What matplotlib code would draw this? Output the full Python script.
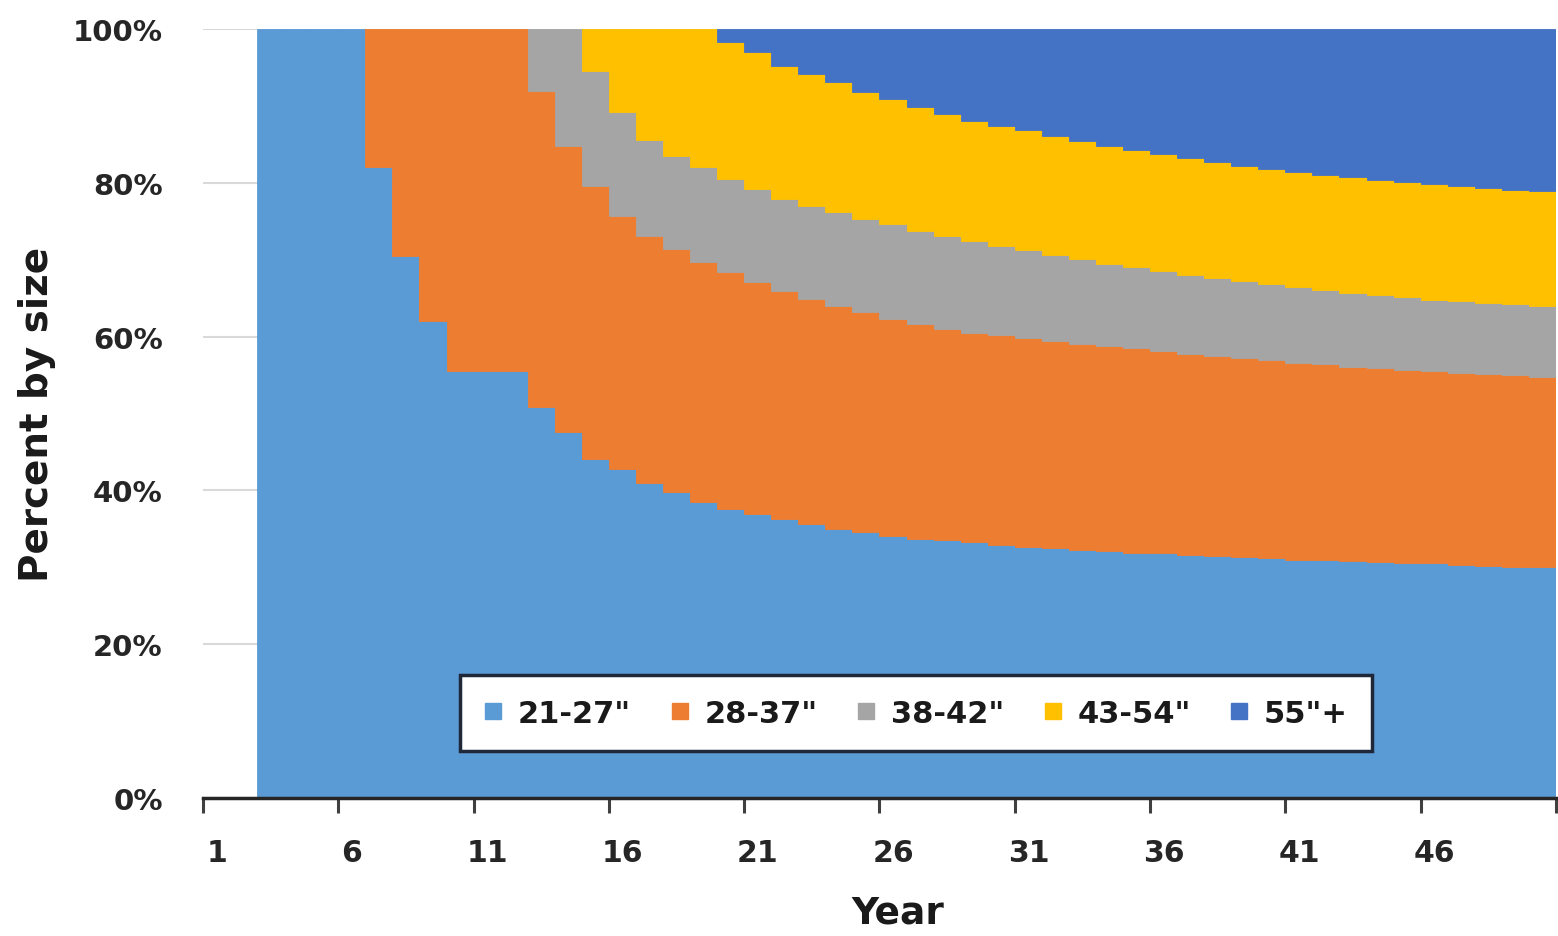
import numpy as np
import matplotlib
matplotlib.use("Agg")
import matplotlib.pyplot as plt
from matplotlib.lines import Line2D

# share of each screen-size bucket per year (percent), years 1..50
years = list(range(1, 51))
size_labels = ['21-27"', '28-37"', '38-42"', '43-54"', '55"+']
colors = ["#5B9BD5", "#ED7D31", "#A5A5A5", "#FFC000", "#4472C4"]

s21_27 = [0, 0, 100, 100, 100, 100, 82, 70.5, 62, 55.5,
          55.5, 55.5, 50.8, 47.6, 44.1, 42.8, 41.0, 39.8, 38.5, 37.6,
          36.9, 36.3, 35.6, 35.0, 34.6, 34.1, 33.7, 33.5, 33.3, 32.9,
          32.7, 32.5, 32.3, 32.1, 31.9, 31.8, 31.6, 31.5, 31.3, 31.2,
          31.0, 30.9, 30.8, 30.7, 30.6, 30.5, 30.3, 30.2, 30.1, 30.0]
s28_37 = [0, 0, 0, 0, 0, 0, 18, 29.5, 38, 44.5,
          44.5, 44.5, 41.2, 37.2, 35.5, 32.9, 32.1, 31.6, 31.2, 30.8,
          30.2, 29.6, 29.3, 29.0, 28.6, 28.2, 27.9, 27.5, 27.2, 27.3,
          27.1, 26.9, 26.8, 26.7, 26.6, 26.3, 26.2, 26.0, 25.9, 25.7,
          25.6, 25.5, 25.3, 25.2, 25.1, 25.0, 25.0, 24.9, 24.9, 24.8]
s38_42 = [0, 0, 0, 0, 0, 0, 0, 0, 0, 0,
          0, 0, 8.0, 15.2, 14.9, 13.5, 12.4, 12.1, 12.3, 12.1,
          12.1, 12.0, 12.1, 12.2, 12.1, 12.3, 12.1, 12.1, 11.9, 11.6,
          11.4, 11.2, 11.0, 10.7, 10.5, 10.4, 10.2, 10.1, 10.0, 9.9,
          9.8, 9.6, 9.6, 9.5, 9.4, 9.3, 9.3, 9.3, 9.2, 9.2]
s43_54 = [0, 0, 0, 0, 0, 0, 0, 0, 0, 0,
          0, 0, 0, 0, 5.5, 10.8, 14.5, 16.5, 18.0, 17.8,
          17.8, 17.3, 17.1, 16.9, 16.5, 16.3, 16.2, 15.9, 15.6, 15.6,
          15.6, 15.5, 15.3, 15.3, 15.2, 15.2, 15.2, 15.1, 15.0, 15.0,
          15.0, 15.0, 15.0, 15.0, 15.0, 15.0, 15.0, 14.9, 14.9, 14.9]
s55_up = [0, 0, 0, 0, 0, 0, 0, 0, 0, 0,
          0, 0, 0, 0, 0, 0, 0, 0, 0, 1.7,
          3.0, 4.8, 5.9, 6.9, 8.2, 9.1, 10.1, 11.0, 12.0, 12.6,
          13.2, 13.9, 14.6, 15.2, 15.8, 16.3, 16.8, 17.3, 17.8, 18.2,
          18.6, 19.0, 19.3, 19.6, 19.9, 20.2, 20.4, 20.7, 20.9, 21.1]

series = [s21_27, s28_37, s38_42, s43_54, s55_up]

fig, ax = plt.subplots(figsize=(15.58, 9.37), dpi=100)
fig.subplots_adjust(left=0.1303, right=0.9987, bottom=0.1473, top=0.968)

# stacked columns with no gap -> stepped area look
bottom = np.zeros(len(years))
for vals, c, lab in zip(series, colors, size_labels):
    vals = np.array(vals, dtype=float)
    edges = [c if v > 0 else "none" for v in vals]
    ax.bar(years, vals, width=1.0, bottom=bottom, color=c,
           edgecolor=edges, linewidth=0.6, label=lab)
    bottom += vals

ax.set_xlim(0.5, 50.5)
ax.set_ylim(0, 100)

# y axis: percent labels, light grid, no tick marks
ax.set_yticks(np.arange(0, 101, 20))
ax.set_yticklabels([f"{v}%" for v in range(0, 101, 20)])
ax.tick_params(axis="y", length=0, pad=29, labelsize=21, labelcolor="#262626")
ax.yaxis.grid(True, color="#d9d9d9", linewidth=1.5)
ax.set_axisbelow(True)

# x axis: tick marks between groups of 5 years, labels on the year centres
ax.set_xticks(np.arange(0.5, 51, 5))
ax.set_xticklabels([])
ax.set_xticks(np.arange(1, 51, 5), minor=True)
ax.set_xticklabels([str(v) for v in range(1, 51, 5)], minor=True)
ax.tick_params(axis="x", which="major", length=11, width=2.2, color="#404040")
ax.tick_params(axis="x", which="minor", length=0, pad=29, labelsize=21.5,
               labelcolor="#262626")

for s in ["top", "right", "left"]:
    ax.spines[s].set_visible(False)
ax.spines["bottom"].set_color("#262626")
ax.spines["bottom"].set_linewidth(2.5)

for lbl in ax.get_xticklabels(minor=True) + ax.get_yticklabels():
    lbl.set_fontweight("bold")

ax.set_xlabel("Year", fontsize=27, fontweight="bold", color="#1a1a1a")
ax.xaxis.set_label_coords(0.5137, -0.149)
ax.xaxis.label.set_va("center")
ax.set_ylabel("Percent by size", fontsize=28, fontweight="bold", color="#1a1a1a")
ax.yaxis.set_label_coords(-0.1227, 0.5)
ax.yaxis.label.set_va("center")

handles = [Line2D([], [], marker="s", linestyle="none", markersize=11,
                  color=c) for c in colors]
leg = ax.legend(handles, size_labels, loc="center", bbox_to_anchor=(0.527, 0.1105),
                ncol=5, frameon=True, fancybox=False, framealpha=1,
                prop={"size": 22, "weight": "bold"}, handlelength=0.6,
                handletextpad=0.5, columnspacing=1.3, borderpad=0.78)
leg.get_frame().set_edgecolor("#1f2838")
leg.get_frame().set_linewidth(2.5)
for t in leg.get_texts():
    t.set_color("#1a1a1a")

plt.savefig("out.png", dpi=100)
